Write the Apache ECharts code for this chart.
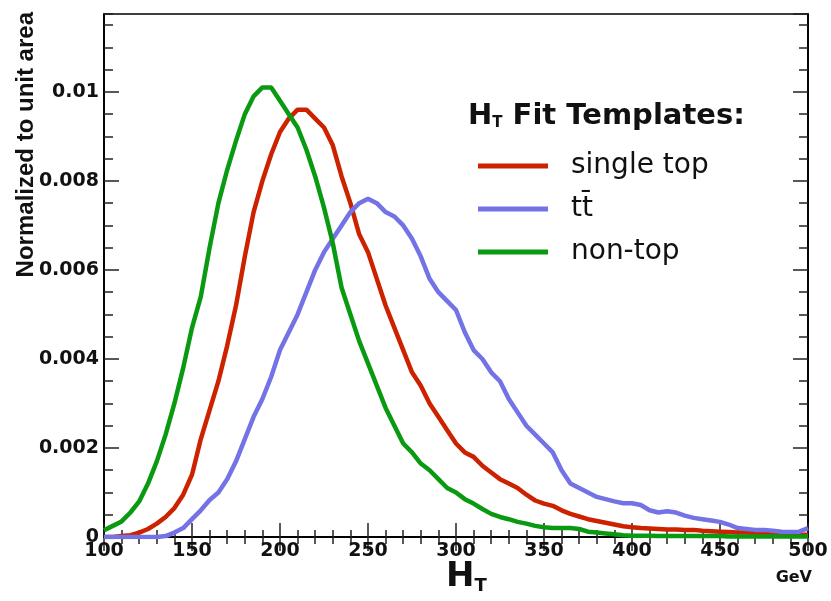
<!DOCTYPE html>
<html>
<head>
<meta charset="utf-8">
<script src="https://cdn.jsdelivr.net/npm/echarts@6/dist/echarts.min.js"></script>
<style>
html,body{margin:0;padding:0;background:#fff;}
#chart{width:831px;height:601px;}
</style>
</head>
<body>
<div id="chart"></div>
<script>
// H_T values (GeV), bin centres every 5 GeV
const htValues = [100,105,110,115,120,125,130,135,140,145,150,155,160,165,170,175,180,185,190,195,
  200,205,210,215,220,225,230,235,240,245,250,255,260,265,270,275,280,285,290,295,
  300,305,310,315,320,325,330,335,340,345,350,355,360,365,370,375,380,385,390,395,
  400,405,410,415,420,425,430,435,440,445,450,455,460,465,470,475,480,485,490,495,500];

const singleTop = [0,0,0.00002,0.00004,0.0001,0.00018,0.0003,0.00045,0.00065,0.00095,
  0.0014,0.0022,0.00285,0.0035,0.0043,0.0052,0.0063,0.0073,0.0080,0.0086,
  0.0091,0.0094,0.0096,0.0096,0.0094,0.0092,0.0088,0.0081,0.0075,0.0068,
  0.0064,0.0058,0.0052,0.0047,0.0042,0.0037,0.0034,0.0030,0.0027,0.0024,
  0.0021,0.0019,0.0018,0.0016,0.00145,0.0013,0.0012,0.0011,0.00095,0.00082,
  0.00075,0.0007,0.0006,0.00052,0.00046,0.0004,0.00036,0.00032,0.00028,0.00024,
  0.00022,0.0002,0.00019,0.00018,0.00017,0.00017,0.00016,0.00016,0.00014,0.00013,
  0.00012,0.00011,0.0001,0.0001,0.00009,0.00008,0.00007,0.00006,0.00006,0.00005,0.00005];

const ttbar = [0,0,0,0,0,0,0,0.00002,0.0001,0.0002,
  0.0004,0.0006,0.00083,0.001,0.0013,0.0017,0.0022,0.0027,0.0031,0.0036,
  0.0042,0.0046,0.0050,0.0055,0.0060,0.0064,0.0067,0.0070,0.0073,0.0075,
  0.0076,0.0075,0.0073,0.0072,0.0070,0.0067,0.0063,0.0058,0.0055,0.0053,
  0.0051,0.0046,0.0042,0.0040,0.0037,0.0035,0.0031,0.0028,0.0025,0.0023,
  0.0021,0.0019,0.0015,0.0012,0.0011,0.001,0.0009,0.00085,0.0008,0.00076,
  0.00076,0.00072,0.0006,0.00055,0.00058,0.00055,0.00048,0.00043,0.0004,0.00037,
  0.00034,0.00028,0.0002,0.00018,0.00016,0.00016,0.00014,0.00012,0.00011,0.00012,0.0002];

const nonTop = [0.00015,0.00025,0.00035,0.00055,0.0008,0.0012,0.0017,0.0023,0.0030,0.0038,
  0.0047,0.0054,0.0065,0.0075,0.00825,0.0089,0.0095,0.0099,0.0101,0.0101,
  0.0098,0.0095,0.0092,0.0087,0.0081,0.0074,0.0066,0.0056,0.0050,0.0044,
  0.0039,0.0034,0.0029,0.0025,0.0021,0.0019,0.00165,0.0015,0.0013,0.0011,
  0.0010,0.00085,0.00075,0.00063,0.00052,0.00045,0.0004,0.00034,0.0003,0.00025,
  0.00022,0.0002,0.0002,0.0002,0.00018,0.00012,0.0001,0.00008,0.00006,0.00004,
  0.00003,0.00003,0.00003,0.00002,0.00002,0.00002,0.00002,0.00002,0.00002,0.00002,
  0.00002,0.00001,0.00001,0.00001,0.00001,0.00001,0.00001,0.00001,0.00001,0.00001,0.00001];

const seriesNames = ['single top', 'tt\u0304', 'non-top'];
const seriesColors = ['#cc2200', '#7373e6', '#0a9a12'];
const xTickLabels = ['100','150','200','250','300','350','400','450','500'];
const yTickLabels = ['0','0.002','0.004','0.006','0.008','0.01'];

const X_MIN = 100, X_MAX = 500, Y_MIN = 0, Y_MAX = 0.01175;

const chart = echarts.init(document.getElementById('chart'), null, {renderer: 'canvas'});

const tickFont = {fontFamily: 'DejaVu Sans', fontWeight: 'bold', fontSize: 19, color: '#111'};

function mkX(pos, interval, len, extra) {
  return Object.assign({
    type: 'value', position: pos, min: X_MIN, max: X_MAX, interval: interval,
    axisLine: {show: true, lineStyle: {color: '#000', width: 1.5}},
    axisTick: {show: true, inside: true, length: len, lineStyle: {color: '#222', width: 1.5}},
    axisLabel: {show: false},
    splitLine: {show: false}
  }, extra || {});
}
function mkY(pos, interval, len, extra) {
  return Object.assign({
    type: 'value', position: pos, min: Y_MIN, max: Y_MAX, interval: interval,
    axisLine: {show: true, lineStyle: {color: '#000', width: 1.5}},
    axisTick: {show: true, inside: true, length: len, lineStyle: {color: '#222', width: 1.5}},
    axisLabel: {show: false},
    splitLine: {show: false}
  }, extra || {});
}

const xAxes = [
  mkX('bottom', 50, 14, {
    axisLabel: Object.assign({show: true, margin: 5,
      formatter: v => xTickLabels.indexOf(String(v)) >= 0 ? String(v) : ''}, tickFont)
  }),
  mkX('bottom', 10, 7),
  mkX('top', 50, 14),
  mkX('top', 10, 7)
];
const yAxes = [
  mkY('left', 0.002, 15, {
    axisLabel: Object.assign({show: true, margin: 5, showMaxLabel: false,
      formatter: function (v) {
        const s = String(+v.toFixed(4));
        return yTickLabels.indexOf(s) >= 0 ? s : '';
      }}, tickFont)
  }),
  mkY('left', 0.0005, 9),
  mkY('right', 0.002, 15),
  mkY('right', 0.0005, 9)
];

const seriesData = [singleTop, ttbar, nonTop];
const series = seriesData.map((arr, i) => ({
  name: seriesNames[i],
  type: 'line',
  xAxisIndex: 0, yAxisIndex: 0,
  data: htValues.map((x, k) => [x, arr[k]]),
  showSymbol: false, symbol: 'none',
  smooth: false,
  lineStyle: {color: seriesColors[i], width: 4.5},
  itemStyle: {color: seriesColors[i]}
}));

const option = {
  backgroundColor: '#fff',
  animation: false,
  grid: {left: 104, right: 23, top: 14, bottom: 64, show: true, borderColor: '#000', borderWidth: 1.5, backgroundColor: 'transparent'},
  xAxis: xAxes,
  yAxis: yAxes,
  legend: {
    orient: 'vertical', left: 473, top: 146,
    itemWidth: 70, itemHeight: 5, icon: 'rect', itemGap: 13,
    data: seriesNames,
    textStyle: {fontFamily: 'DejaVu Sans', fontSize: 28, color: '#111', lineHeight: 30, padding: [0, 0, 0, 18]}
  },
  series: series,
  graphic: [
    {
      type: 'text', x: 468, y: 116,
      style: {
        text: '{h|H}{t|T}{r| Fit Templates:}',
        textVerticalAlign: 'middle',
        rich: {
          h: {fontFamily: 'DejaVu Sans', fontWeight: 'bold', fontSize: 29, fill: '#111'},
          t: {fontFamily: 'DejaVu Sans', fontWeight: 'bold', fontSize: 15, fill: '#111', padding: [14, 0, 0, 0]},
          r: {fontFamily: 'DejaVu Sans', fontWeight: 'bold', fontSize: 29, fill: '#111'}
        }
      }
    },
    {
      type: 'text', x: 26, y: 12, rotation: Math.PI / 2,
      style: {
        text: 'Normalized to unit area',
        fontFamily: 'Liberation Sans', fontWeight: 'bold', fontSize: 24, fill: '#111',
        textAlign: 'right', textVerticalAlign: 'middle'
      }
    },
    {
      type: 'text', x: 446, y: 577,
      style: {
        text: '{h|H}{t|T}',
        textVerticalAlign: 'middle',
        rich: {
          h: {fontFamily: 'DejaVu Sans', fontWeight: 'bold', fontSize: 34, fill: '#111'},
          t: {fontFamily: 'DejaVu Sans', fontWeight: 'bold', fontSize: 18, fill: '#111', padding: [18, 0, 0, 0]}
        }
      }
    },
    {
      type: 'text', x: 812, y: 578,
      style: {
        text: 'GeV',
        fontFamily: 'DejaVu Sans', fontWeight: 'bold', fontSize: 16, fill: '#111',
        textAlign: 'right', textVerticalAlign: 'middle'
      }
    }
  ]
};
chart.setOption(option);
</script>
</body>
</html>
